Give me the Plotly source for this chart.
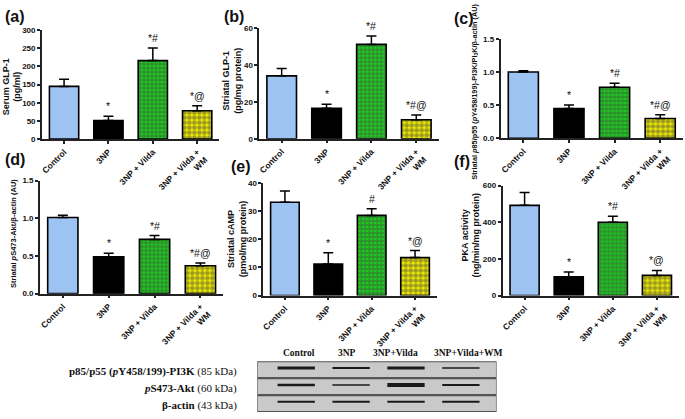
import plotly.graph_objects as go

# ---------------- data ----------------
groups = ["Control", "3NP", "3NP + Vilda", "3NP + Vilda +<br>WM"]

serum_glp1 = [145, 51, 216, 78]
serum_glp1_err = [20, 12, 35, 14]
striatal_glp1 = [34, 16.5, 51, 10.3]
striatal_glp1_err = [4, 2.2, 4.5, 2.5]
pi3k_ratio = [1.0, 0.45, 0.77, 0.30]
pi3k_ratio_err = [0.02, 0.055, 0.06, 0.055]
akt_ratio = [1.01, 0.49, 0.72, 0.37]
akt_ratio_err = [0.03, 0.045, 0.05, 0.035]
camp = [33.2, 11.2, 28.5, 13.5]
camp_err = [4.0, 4.0, 2.4, 2.5]
pka = [492, 102, 400, 110]
pka_err = [70, 27, 32, 27]

sig_a = ["", "*", "*#", "*@"]
sig_b = ["", "*", "*#", "*#@"]
sig_c = ["", "*", "*#", "*#@"]
sig_d = ["", "*", "*#", "*#@"]
sig_e = ["", "*", "#", "*@"]
sig_f = ["", "*", "*#", "*@"]

y_max = [300, 60, 1.5, 1.5, 40, 600]
y_step = [50, 20, 0.5, 0.5, 10, 200]

blot_lanes = ["Control", "3NP", "3NP+Vilda", "3NP+Vilda+WM"]
blot_rows = ["<b>p85/p55 (<i>p</i>Y458/199)-PI3K</b> (85 kDa)",
             "<b><i>p</i>S473-Akt</b> (60 kDa)",
             "<b>β-actin</b> (43 kDa)"]
band_strength = [[3.0, 2.0, 3.0, 1.5],
                 [2.5, 1.5, 4.0, 2.0],
                 [2.0, 2.0, 2.0, 2.0]]

# ---------------- styling ----------------
FONT = "Arial, Liberation Sans, sans-serif"
SERIF = "Times New Roman, Liberation Serif, serif"
AX = "#222222"
bar_colors = ["#9CC3F2", "#000000", "#1ECC1E", "#F2EE00"]
pat_shape = ["", "", "+", "."]
pat_size = [4, 4, 4, 5]
pat_solid = [0.4, 0.4, 0.55, 0.65]

W, H = 685, 419
def px_x(p):
    return p / W
def px_y(p):
    return 1 - p / H

panels = [
    dict(v=serum_glp1, e=serum_glp1_err, s=sig_a, lab="(a)",
         xd=(40, 218), yd=(138, 26.7), fmt="d",
         title="Serum GLP-1<br>(pg/ml)", tsize=9, tx=10, ty=84,
         lx=1, ly=13),
    dict(v=striatal_glp1, e=striatal_glp1_err, s=sig_b, lab="(b)",
         xd=(258, 438), yd=(137.7, 24.3), fmt="d",
         title="Striatal GLP-1<br>(pg/mg protein)", tsize=9, tx=231, ty=78,
         lx=221, ly=13),
    dict(v=pi3k_ratio, e=pi3k_ratio_err, s=sig_c, lab="(c)",
         xd=(500, 683), yd=(137.3, 35.7), fmt=".1f",
         title="Striatal <i>p</i>85/p55 (<i>p</i>Y458/199)-PI3K/PI<sub>3</sub>K/β-actin (AU)",
         tsize=7.3, tx=474, ty=90, lx=451, ly=15),
    dict(v=akt_ratio, e=akt_ratio_err, s=sig_d, lab="(d)",
         xd=(38, 222), yd=(296, 180.5), fmt=".1f",
         title="Striatal <i>p</i>S473-Akt/β-actin (AU)", tsize=7.5, tx=12, ty=234,
         lx=1, ly=159),
    dict(v=camp, e=camp_err, s=sig_e, lab="(e)",
         xd=(262, 436), yd=(298, 183), fmt="d",
         title="Striatal cAMP<br>(pmol/mg protein)", tsize=9, tx=236, ty=240,
         lx=228, ly=166),
    dict(v=pka, e=pka_err, s=sig_f, lab="(f)",
         xd=(502, 679), yd=(298, 185.5), fmt="d",
         title="PKA activity<br>(ng/min/mg protein)", tsize=9, tx=470, ty=236,
         lx=451, ly=161),
]

fig = go.Figure()
layout = dict(width=W, height=H, margin=dict(l=0, r=0, t=0, b=0),
              paper_bgcolor="white", plot_bgcolor="white", showlegend=False,
              font=dict(family=FONT, color="#111"))
annotations = []
shapes = []

for i, p in enumerate(panels):
    k = i + 1
    xs = "" if k == 1 else str(k)
    fig.add_trace(go.Bar(
        x=groups, y=p["v"], width=0.66,
        xaxis="x" + xs, yaxis="y" + xs,
        marker=dict(color=bar_colors,
                    line=dict(color="#000", width=1.6),
                    pattern=dict(shape=pat_shape, fgcolor="#000000",
                                 size=pat_size, solidity=pat_solid,
                                 fillmode="overlay")),
        error_y=dict(type="data", array=p["e"], arrayminus=[0] * 4,
                     symmetric=False, color="#000", thickness=1.5, width=5),
    ))
    layout["xaxis" + xs] = dict(
        domain=[px_x(p["xd"][0]), px_x(p["xd"][1])], anchor="y" + xs,
        type="category", range=[-0.5, 3.5], showline=True, linecolor=AX,
        linewidth=1.5, ticks="outside", ticklen=3, tickwidth=1.5, tickcolor=AX,
        tickangle=-45, tickfont=dict(size=8.5, family=FONT, weight="bold"),
        showgrid=False, zeroline=False)
    layout["yaxis" + xs] = dict(
        domain=[px_y(p["yd"][0]), px_y(p["yd"][1])], anchor="x" + xs,
        range=[0, y_max[i]], dtick=y_step[i], tick0=0, tickformat=p["fmt"],
        showline=True, linecolor=AX, linewidth=1.5, ticks="outside",
        ticklen=3, tickwidth=1.5, tickcolor=AX,
        tickfont=dict(size=8, family=FONT, weight="bold"),
        showgrid=False, zeroline=False)
    for g, val, err, txt in zip(groups, p["v"], p["e"], p["s"]):
        if txt:
            annotations.append(dict(
                x=g, y=val + err, xref="x" + xs, yref="y" + xs, text=txt,
                showarrow=False, yanchor="bottom", yshift=2,
                font=dict(size=10.5, family=FONT, color="#111")))
    annotations.append(dict(
        x=px_x(p["tx"]), y=px_y(p["ty"]), xref="paper", yref="paper",
        xanchor="center", yanchor="middle",
        text=p["title"], textangle=-90, showarrow=False,
        font=dict(size=p["tsize"], family=FONT, weight="bold", color="#111")))
    annotations.append(dict(
        x=px_x(p["lx"]), y=px_y(p["ly"]), xref="paper", yref="paper",
        text="<b>" + p["lab"] + "</b>", showarrow=False, xanchor="left",
        yanchor="middle",
        font=dict(size=16, family=FONT, color="#111")))

# ---------------- western blot ----------------
n_rows = len(blot_rows)
layout["xaxis7"] = dict(domain=[px_x(256), px_x(496)], anchor="y7",
                        range=[-0.71, 3.65], visible=False)
layout["yaxis7"] = dict(domain=[px_y(417), px_y(365)], anchor="x7",
                        range=[0, n_rows], visible=False)
for r in range(n_rows):
    y0 = n_rows - r - 1
    shapes.append(dict(type="rect", xref="x7", yref="y7",
                       x0=-0.71, x1=3.65, y0=y0 + 0.03, y1=y0 + 0.97,
                       fillcolor="#C9C9C9", line=dict(color="#555", width=1.2),
                       layer="below"))
    for lane, strength in enumerate(band_strength[r]):
        shapes.append(dict(type="line", xref="x7", yref="y7",
                           x0=lane - 0.34, x1=lane + 0.34,
                           y0=y0 + 0.6, y1=y0 + 0.6,
                           line=dict(color="#1A1A1A", width=strength)))
    annotations.append(dict(x=px_x(238), y=y0 + 0.5, xref="paper", yref="y7",
                            text=blot_rows[r], showarrow=False, xanchor="right",
                            yshift=-2,
                            font=dict(size=11, family=SERIF, color="#111")))
header_px = [298, 346, 395, 468]
for name, hx in zip(blot_lanes, header_px):
    annotations.append(dict(x=px_x(hx), y=px_y(357), xref="paper", yref="paper",
                            xanchor="center", yanchor="middle",
                            text="<b>" + name + "</b>", showarrow=False,
                            font=dict(size=9.5, family=SERIF, color="#111")))

# invisible trace to register blot axes
fig.add_trace(go.Scatter(x=[0], y=[0], xaxis="x7", yaxis="y7", mode="markers",
                         marker=dict(opacity=0), hoverinfo="skip"))

layout["annotations"] = annotations
layout["shapes"] = shapes
fig.update_layout(**layout)
fig.write_html("out.html", config={"displayModeBar": False},
               post_script="document.body.style.margin='0';document.body.style.padding='0';")
